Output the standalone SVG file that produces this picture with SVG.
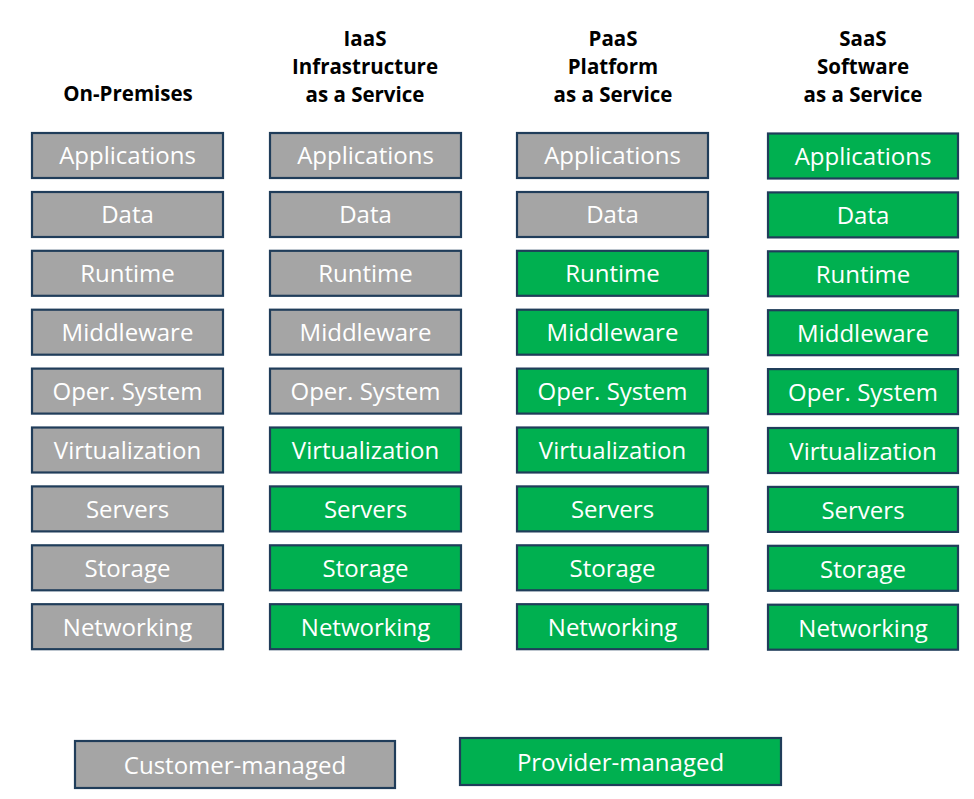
<svg xmlns="http://www.w3.org/2000/svg" width="974" height="799" viewBox="0 0 974 799">
<style>
.box{stroke:#203D5A;stroke-width:2.2}
.c{fill:#A5A5A5}
.p{fill:#00B050}
.t{font-family:"Open Sans","Noto Sans","DejaVu Sans",sans-serif;font-size:24px;fill:#FFFFFF;text-anchor:middle}
.h{font-family:"Open Sans","Noto Sans","DejaVu Sans",sans-serif;font-size:20.5px;font-weight:bold;fill:#000000;text-anchor:middle}
</style>
<rect width="974" height="799" fill="#FFFFFF"/>
<g id="headers">
<text class="h" x="128" y="101">On-Premises</text>
<text class="h" x="365" y="46">IaaS</text>
<text class="h" x="365" y="74">Infrastructure</text>
<text class="h" x="365" y="102">as a Service</text>
<text class="h" x="613" y="46">PaaS</text>
<text class="h" x="613" y="74">Platform</text>
<text class="h" x="613" y="102">as a Service</text>
<text class="h" x="863" y="46">SaaS</text>
<text class="h" x="863" y="74">Software</text>
<text class="h" x="863" y="102">as a Service</text>
</g>
<g id="col-onprem">
<g id="op-applications"><rect class="box c" x="32" y="133" width="191" height="45"/><text class="t" x="127.5" y="163.5">Applications</text></g>
<g id="op-data"><rect class="box c" x="32" y="192" width="191" height="45"/><text class="t" x="127.5" y="222.5">Data</text></g>
<g id="op-runtime"><rect class="box c" x="32" y="250.8" width="191" height="45"/><text class="t" x="127.5" y="281.5">Runtime</text></g>
<g id="op-middleware"><rect class="box c" x="32" y="309.7" width="191" height="45"/><text class="t" x="127.5" y="340.5">Middleware</text></g>
<g id="op-os"><rect class="box c" x="32" y="368.6" width="191" height="45"/><text class="t" x="127.5" y="399.5">Oper. System</text></g>
<g id="op-virtualization"><rect class="box c" x="32" y="427.5" width="191" height="45"/><text class="t" x="127.5" y="458.5">Virtualization</text></g>
<g id="op-servers"><rect class="box c" x="32" y="486.4" width="191" height="45"/><text class="t" x="127.5" y="517.5">Servers</text></g>
<g id="op-storage"><rect class="box c" x="32" y="545.3" width="191" height="45"/><text class="t" x="127.5" y="576.5">Storage</text></g>
<g id="op-networking"><rect class="box c" x="32" y="604.2" width="191" height="45"/><text class="t" x="127.5" y="635.5">Networking</text></g>
</g>
<g id="col-iaas">
<g id="iaas-applications"><rect class="box c" x="270" y="133" width="191" height="45"/><text class="t" x="365.5" y="163.5">Applications</text></g>
<g id="iaas-data"><rect class="box c" x="270" y="192" width="191" height="45"/><text class="t" x="365.5" y="222.5">Data</text></g>
<g id="iaas-runtime"><rect class="box c" x="270" y="250.8" width="191" height="45"/><text class="t" x="365.5" y="281.5">Runtime</text></g>
<g id="iaas-middleware"><rect class="box c" x="270" y="309.7" width="191" height="45"/><text class="t" x="365.5" y="340.5">Middleware</text></g>
<g id="iaas-os"><rect class="box c" x="270" y="368.6" width="191" height="45"/><text class="t" x="365.5" y="399.5">Oper. System</text></g>
<g id="iaas-virtualization"><rect class="box p" x="270" y="427.5" width="191" height="45"/><text class="t" x="365.5" y="458.5">Virtualization</text></g>
<g id="iaas-servers"><rect class="box p" x="270" y="486.4" width="191" height="45"/><text class="t" x="365.5" y="517.5">Servers</text></g>
<g id="iaas-storage"><rect class="box p" x="270" y="545.3" width="191" height="45"/><text class="t" x="365.5" y="576.5">Storage</text></g>
<g id="iaas-networking"><rect class="box p" x="270" y="604.2" width="191" height="45"/><text class="t" x="365.5" y="635.5">Networking</text></g>
</g>
<g id="col-paas">
<g id="paas-applications"><rect class="box c" x="517" y="133" width="191" height="45"/><text class="t" x="612.5" y="163.5">Applications</text></g>
<g id="paas-data"><rect class="box c" x="517" y="192" width="191" height="45"/><text class="t" x="612.5" y="222.5">Data</text></g>
<g id="paas-runtime"><rect class="box p" x="517" y="250.8" width="191" height="45"/><text class="t" x="612.5" y="281.5">Runtime</text></g>
<g id="paas-middleware"><rect class="box p" x="517" y="309.7" width="191" height="45"/><text class="t" x="612.5" y="340.5">Middleware</text></g>
<g id="paas-os"><rect class="box p" x="517" y="368.6" width="191" height="45"/><text class="t" x="612.5" y="399.5">Oper. System</text></g>
<g id="paas-virtualization"><rect class="box p" x="517" y="427.5" width="191" height="45"/><text class="t" x="612.5" y="458.5">Virtualization</text></g>
<g id="paas-servers"><rect class="box p" x="517" y="486.4" width="191" height="45"/><text class="t" x="612.5" y="517.5">Servers</text></g>
<g id="paas-storage"><rect class="box p" x="517" y="545.3" width="191" height="45"/><text class="t" x="612.5" y="576.5">Storage</text></g>
<g id="paas-networking"><rect class="box p" x="517" y="604.2" width="191" height="45"/><text class="t" x="612.5" y="635.5">Networking</text></g>
</g>
<g id="col-saas">
<g id="saas-applications"><rect class="box p" x="768" y="133.5" width="190" height="45"/><text class="t" x="863" y="164.5">Applications</text></g>
<g id="saas-data"><rect class="box p" x="768" y="192.4" width="190" height="45"/><text class="t" x="863" y="223.5">Data</text></g>
<g id="saas-runtime"><rect class="box p" x="768" y="251.3" width="190" height="45"/><text class="t" x="863" y="282.5">Runtime</text></g>
<g id="saas-middleware"><rect class="box p" x="768" y="310.2" width="190" height="45"/><text class="t" x="863" y="341.5">Middleware</text></g>
<g id="saas-os"><rect class="box p" x="768" y="369.1" width="190" height="45"/><text class="t" x="863" y="400.5">Oper. System</text></g>
<g id="saas-virtualization"><rect class="box p" x="768" y="428" width="190" height="45"/><text class="t" x="863" y="459.5">Virtualization</text></g>
<g id="saas-servers"><rect class="box p" x="768" y="486.9" width="190" height="45"/><text class="t" x="863" y="518.5">Servers</text></g>
<g id="saas-storage"><rect class="box p" x="768" y="545.8" width="190" height="45"/><text class="t" x="863" y="577.5">Storage</text></g>
<g id="saas-networking"><rect class="box p" x="768" y="604.7" width="190" height="45"/><text class="t" x="863" y="636.5">Networking</text></g>
</g>
<g id="legend">
<g id="legend-customer"><rect class="box c" x="75" y="741" width="320" height="47"/><text class="t" x="235" y="773.5">Customer-managed</text></g>
<g id="legend-provider"><rect class="box p" x="460" y="738" width="321" height="47"/><text class="t" x="620.5" y="770.5">Provider-managed</text></g>
</g>
<g id="connectors"/>
</svg>
